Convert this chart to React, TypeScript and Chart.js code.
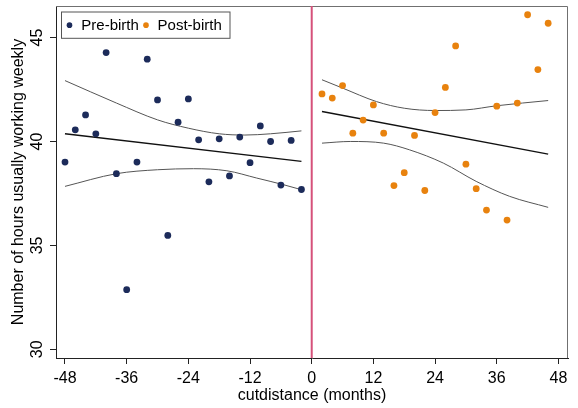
import { useEffect, useRef } from 'react';
import { Chart, registerables } from 'chart.js';

Chart.register(...registerables);

const PRE_MONTHS = [-48, -46, -44, -42, -40, -38, -36, -34, -32, -30, -28, -26, -24, -22, -20, -18, -16, -14, -12, -10, -8, -6, -4, -2];
const PRE_HOURS = [39.01, 40.56, 41.28, 40.37, 44.28, 38.45, 32.87, 39.01, 43.96, 42.0, 35.48, 40.93, 42.05, 40.08, 38.06, 40.13, 38.34, 40.21, 38.98, 40.75, 40.0, 37.9, 40.05, 37.69];

const POST_MONTHS = [2, 4, 6, 8, 10, 12, 14, 16, 18, 20, 22, 24, 26, 28, 30, 32, 34, 36, 38, 40, 42, 44, 46];
const POST_HOURS = [42.29, 42.09, 42.69, 40.4, 41.03, 41.76, 40.4, 37.88, 38.5, 40.29, 37.64, 41.39, 42.6, 44.6, 38.91, 37.73, 36.7, 41.7, 36.22, 41.85, 46.1, 43.46, 45.69];

const PRE_FIT_X = [-48, -2];
const PRE_FIT_Y = [40.37, 39.04];
const POST_FIT_X = [2, 46];
const POST_FIT_Y = [41.44, 39.39];

const PRE_UPPER_X = [-48, -38, -30, -24, -18, -13, -8, -2];
const PRE_UPPER_Y = [42.93, 41.85, 41.04, 40.64, 40.37, 40.31, 40.37, 40.51];
const PRE_LOWER_X = [-48, -38, -30, -23, -16.5, -10.7, -5.5, -2];
const PRE_LOWER_Y = [37.84, 38.45, 38.64, 38.69, 38.59, 38.24, 37.92, 37.68];

const POST_UPPER_X = [2, 6, 12.6, 18, 24, 30, 36, 46];
const POST_UPPER_Y = [42.97, 42.57, 41.92, 41.6, 41.49, 41.52, 41.72, 41.97];
const POST_LOWER_X = [2, 7.5, 14, 19, 25.6, 32, 38.5, 46];
const POST_LOWER_Y = [39.92, 40.0, 39.92, 39.6, 38.96, 38.08, 37.36, 36.83];

const X_TICKS = [-48, -36, -24, -12, 0, 12, 24, 36, 48];
const Y_TICKS = [30, 35, 40, 45];
const CUTOFF = 0;
const LEGEND_LABELS = ['Pre-birth', 'Post-birth'];

const X_MIN = -49.75;
const X_MAX = 49.86;
const Y_MIN = 29.58;
const Y_MAX = 46.52;

const NAVY = '#1c2b5a';
const ORANGE = '#e8820e';
const CUT_COLOR = '#d6517a';
const FONT = '"Liberation Sans", Arial, Helvetica, sans-serif';
const AXIS = '#222222';

const pts = (xs: number[], ys: number[]) => xs.map((x, i) => ({ x, y: ys[i] }));

const customPlugin = {
  id: 'custom',
  beforeDatasetsDraw(chart: any) {
    const { ctx, chartArea: a, scales } = chart;
    ctx.save();
    ctx.strokeStyle = '#707070';
    ctx.lineWidth = 1;
    ctx.beginPath();
    ctx.moveTo(a.left, a.top + 0.5);
    ctx.lineTo(a.right - 0.5, a.top + 0.5);
    ctx.lineTo(a.right - 0.5, a.bottom);
    ctx.stroke();
    const cx = scales.x.getPixelForValue(CUTOFF);
    ctx.strokeStyle = CUT_COLOR;
    ctx.lineWidth = 2;
    ctx.beginPath();
    ctx.moveTo(cx, a.top);
    ctx.lineTo(cx, a.bottom);
    ctx.stroke();
    ctx.restore();
  },
  afterDraw(chart: any) {
    const { ctx, chartArea: a, scales } = chart;
    ctx.save();
    // y tick labels, rotated
    ctx.fillStyle = '#000';
    ctx.font = `16px ${FONT}`;
    ctx.textAlign = 'center';
    ctx.textBaseline = 'middle';
    for (const t of scales.y.ticks) {
      const p = scales.y.getPixelForValue(t.value);
      ctx.save();
      ctx.translate(a.left - 18, p);
      ctx.rotate(-Math.PI / 2);
      ctx.fillText(String(t.value), 0, 0);
      ctx.restore();
    }
    // legend
    const lx = a.left + 5;
    const ly = a.top + 5.5;
    const lw = 168.5;
    const lh = 26.3;
    ctx.fillStyle = '#fff';
    ctx.fillRect(lx, ly, lw, lh);
    ctx.strokeStyle = '#555';
    ctx.lineWidth = 1;
    ctx.strokeRect(lx + 0.5, ly + 0.5, lw, lh);
    const cy = ly + lh / 2 + 0.5;
    const colors = [NAVY, ORANGE];
    const dotX = [lx + 8.5, lx + 85];
    const textX = [lx + 20.3, lx + 96.6];
    ctx.font = `15px ${FONT}`;
    ctx.textAlign = 'left';
    ctx.textBaseline = 'middle';
    LEGEND_LABELS.forEach((lab, i) => {
      ctx.fillStyle = colors[i];
      ctx.beginPath();
      ctx.arc(dotX[i], cy, 2.8, 0, Math.PI * 2);
      ctx.fill();
      ctx.fillStyle = '#000';
      ctx.fillText(lab, textX[i], cy + 0.5);
    });
    ctx.restore();
  },
};

export default function App() {
  const ref = useRef<HTMLCanvasElement | null>(null);
  useEffect(() => {
    if (!ref.current) return;
    const lineDs = (xs: number[], ys: number[], color: string, width: number, curved: boolean) => ({
      type: 'line' as const,
      data: pts(xs, ys),
      borderColor: color,
      borderWidth: width,
      pointRadius: 0,
      fill: false,
      showLine: true,
      cubicInterpolationMode: curved ? ('monotone' as const) : ('default' as const),
      tension: curved ? 0.4 : 0,
    });
    const chart = new Chart(ref.current, {
      type: 'scatter',
      data: {
        datasets: [
          { label: LEGEND_LABELS[0], data: pts(PRE_MONTHS, PRE_HOURS), backgroundColor: NAVY, borderWidth: 0, pointRadius: 3.4 },
          { label: LEGEND_LABELS[1], data: pts(POST_MONTHS, POST_HOURS), backgroundColor: ORANGE, borderWidth: 0, pointRadius: 3.4 },
          lineDs(PRE_FIT_X, PRE_FIT_Y, '#111', 1.4, false),
          lineDs(POST_FIT_X, POST_FIT_Y, '#111', 1.4, false),
          lineDs(PRE_UPPER_X, PRE_UPPER_Y, '#555', 1, true),
          lineDs(PRE_LOWER_X, PRE_LOWER_Y, '#555', 1, true),
          lineDs(POST_UPPER_X, POST_UPPER_Y, '#555', 1, true),
          lineDs(POST_LOWER_X, POST_LOWER_Y, '#555', 1, true),
        ] as any,
      },
      options: {
        responsive: false,
        animation: false,
        events: [],
        layout: { padding: { top: 6, right: 10, left: 0, bottom: 0 } },
        plugins: { legend: { display: false }, tooltip: { enabled: false } },
        scales: {
          x: {
            type: 'linear',
            min: X_MIN,
            max: X_MAX,
            afterBuildTicks: (s: any) => { s.ticks = X_TICKS.map((v) => ({ value: v })); },
            afterFit: (s: any) => { s.height = 50; },
            grid: { drawOnChartArea: false, drawTicks: true, tickLength: 6, color: AXIS },
            border: { color: AXIS, width: 1 },
            ticks: { color: '#000', font: { family: FONT, size: 16 }, padding: 5, maxRotation: 0, autoSkip: false },
            title: { display: true, text: 'cutdistance (months)', color: '#000', font: { family: FONT, size: 16 }, padding: { top: 0, bottom: 3 } },
          },
          y: {
            type: 'linear',
            min: Y_MIN,
            max: Y_MAX,
            afterBuildTicks: (s: any) => { s.ticks = Y_TICKS.map((v) => ({ value: v })); },
            afterFit: (s: any) => { s.width = 56; },
            grid: { drawOnChartArea: false, drawTicks: true, tickLength: 6, color: AXIS },
            border: { color: AXIS, width: 1 },
            ticks: { display: false },
            title: { display: true, text: 'Number of hours usually working weekly', color: '#000', font: { family: FONT, size: 16 }, padding: { top: 9, bottom: 0 } },
          },
        },
      } as any,
      plugins: [customPlugin],
    });
    return () => chart.destroy();
  }, []);
  return (
    <div style={{ position: 'fixed', left: 0, top: 0, width: 578, height: 408, background: '#fff' }}>
      <canvas ref={ref} width={578} height={408} style={{ display: 'block' }} />
    </div>
  );
}
